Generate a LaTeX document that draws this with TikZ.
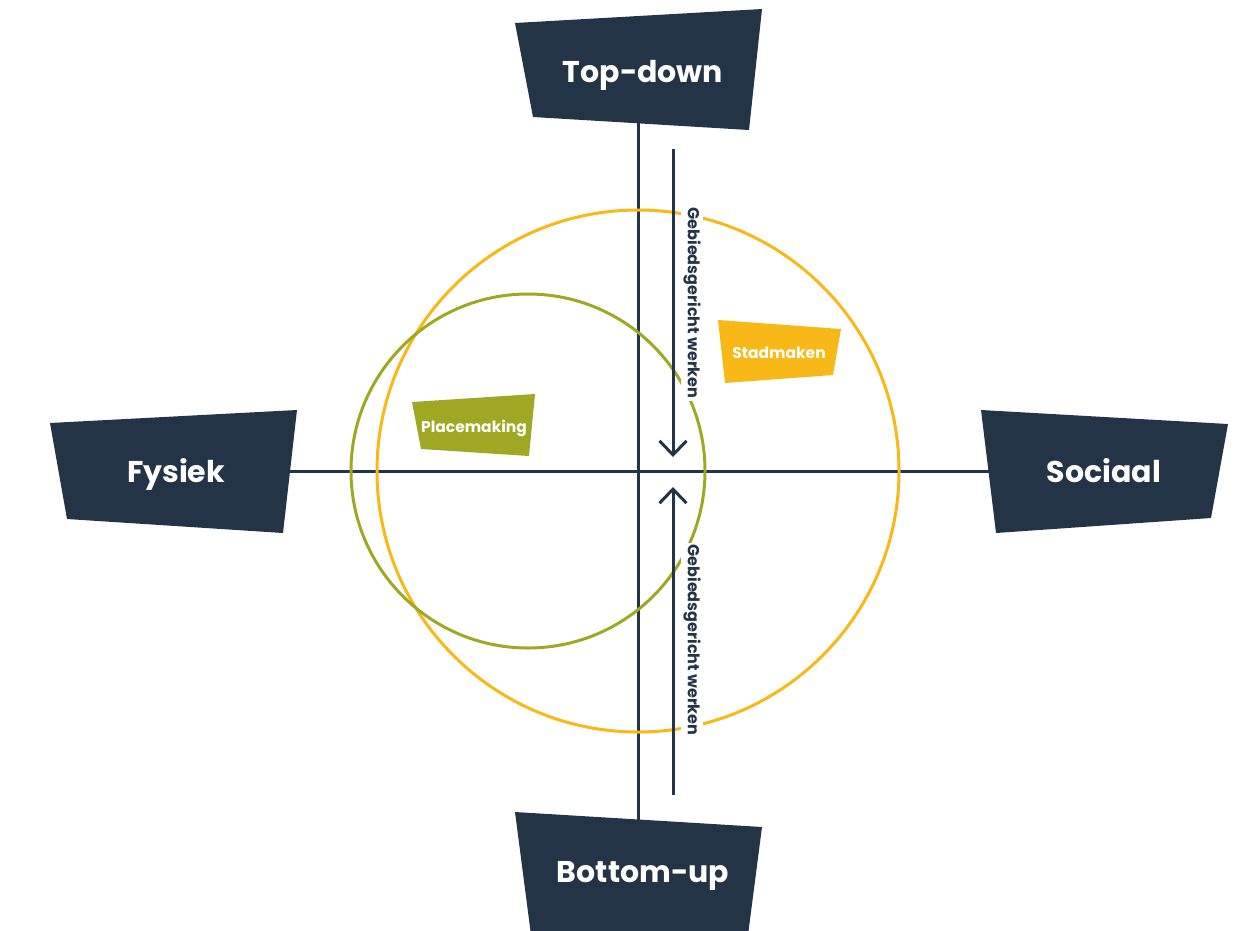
\documentclass[tikz,border=0pt]{standalone}
\usepackage{fontspec}
\setmainfont{Poppins}
\usetikzlibrary{arrows.meta}
\definecolor{navy}{HTML}{243447}
\definecolor{gold}{HTML}{F8B818}
\definecolor{olive}{HTML}{A0A823}
\pgfdeclarelayer{bg}
\pgfsetlayers{bg,main}
\tikzset{
  axis/.style={navy,line width=3pt},
  ring/.style={line width=3pt},
  pole/.style={anchor=base,text=white,font=\bfseries\fontsize{30}{32}\selectfont},
  tag/.style={anchor=base,text=white,font=\bfseries\fontsize{15.5}{17}\selectfont},
  way/.style={navy,line width=3pt,-{Straight Barb[length=14pt,width=27pt]}},
  lbl/.style={fill=white,rotate=-90,text=navy,inner sep=2pt,font=\bfseries\fontsize{16}{18}\selectfont},
}
\begin{document}
\begin{tikzpicture}[x=1pt,y=-1pt]
\useasboundingbox (0,0) rectangle (1236,930);
\path (638,471) coordinate (O) (528,471) coordinate (C)
  (673,149) coordinate (T1) (673,457) coordinate (T2)
  (673,795) coordinate (B1) (673,487) coordinate (B2);
% circles
\draw[ring,gold] (O) circle (261);
\draw[ring,olive] (C) circle (177);
% arrows and labels
\draw[way] (T1) -- (T2);
\draw[way] (B1) -- (B2);
\node[lbl] (gw1) at (692,303) {Gebiedsgericht werken};
\node[lbl] (gw2) at (692,640) {Gebiedsgericht werken};
% boxes
\fill[navy] (515,23) -- (762,9) -- (749,130) -- (533,117) -- cycle;
\fill[navy] (50,423) -- (297,410) -- (283,533) -- (67,519) -- cycle;
\fill[navy] (981,410) -- (1228,424) -- (1211,518) -- (996,533) -- cycle;
\fill[navy] (515,812) -- (762,827) -- (748,935) -- (531,935) -- cycle;
\fill[gold] (718,320) -- (841,329) -- (833,375) -- (725,383) -- cycle;
\fill[olive] (412,402) -- (535,394) -- (529,456) -- (421,449) -- cycle;
\node[pole] (topdown) at (643,82) {Top-down};
\node[pole] (fysiek) at (176,482) {Fysiek};
\node[pole] (sociaal) at (1104,482) {Sociaal};
\node[pole] (bottomup) at (643,882) {Bottom-up};
\node[tag] (stad) at (779,358) {Stadmaken};
\node[tag] (place) at (474,432) {Placemaking};
\begin{pgfonlayer}{bg}
\draw[axis] (O |- topdown) -- (O |- bottomup);
\draw[axis] (O -| fysiek) -- (O -| sociaal);
\end{pgfonlayer}
\end{tikzpicture}
\end{document}
